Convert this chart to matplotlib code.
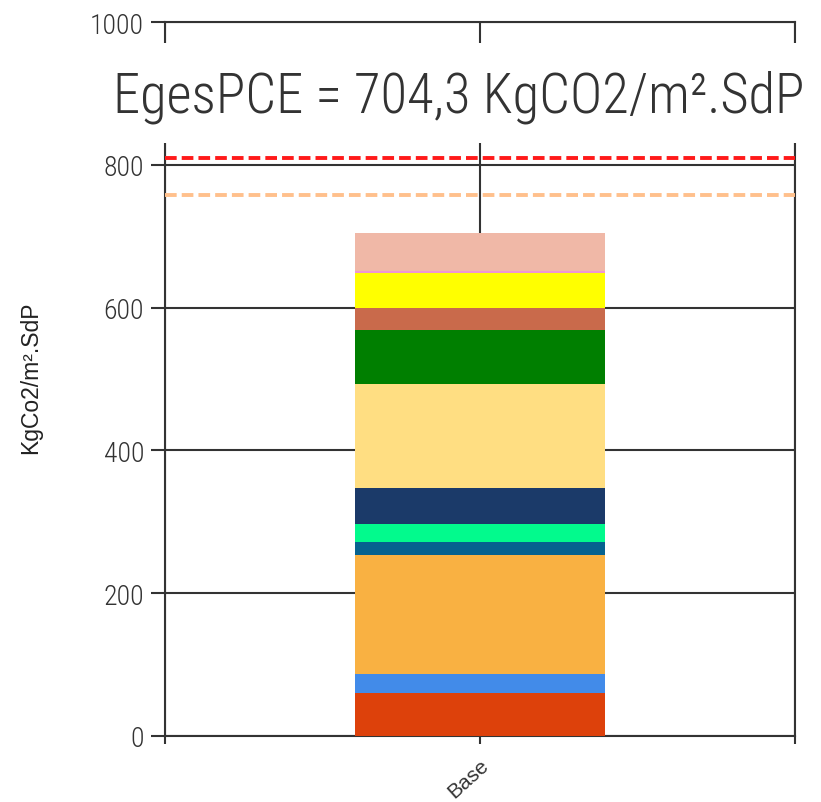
import matplotlib
matplotlib.use("Agg")
import matplotlib.pyplot as plt
from matplotlib import font_manager
from matplotlib.patches import Rectangle

# Stacked components of the carbon footprint (bottom to top)
categories = ["Base"]
segment_values = [60.0, 27.0, 166.5, 18.7, 24.3, 51.5, 145.0, 76.0, 30.0, 50.0, 2.0, 53.3]
segment_colors = ["#dd410b", "#428be9", "#f9b142", "#06628f", "#02fa8d", "#1b3a69",
                  "#ffde82", "#007f00", "#c96a4b", "#ffff00", "#ef96d2", "#f0b8a7"]
threshold_values = [809, 758]
threshold_colors = ["#ff1a1a", "#ffc08c"]
y_ticks = [0, 200, 400, 600, 800, 1000]
total_label = "EgesPCE = 704,3 KgCO2/m².SdP"
y_label = "KgCo2/m².SdP"


def pick_family(candidates):
    installed = {f.name for f in font_manager.fontManager.ttflist}
    for name in candidates:
        if name in installed:
            return name
    return "DejaVu Sans"


narrow = pick_family(["Liberation Sans Narrow", "DejaVu Sans Condensed",
                      "Roboto Condensed", "Open Sans Condensed", "Open Sans"])
arial = pick_family(["Liberation Sans", "DejaVu Sans"])

W, H = 821, 803
fig = plt.figure(figsize=(W / 100, H / 100), dpi=100)
ax = fig.add_axes([165 / W, 1 - 737 / H, 630 / W, 714 / H])

line_col = "#333333"
line_w = 1.5

# stacked bar
bottom = 0.0
for v, c in zip(segment_values, segment_colors):
    ax.bar(0, v, width=0.794, bottom=bottom, color=c, edgecolor="none", zorder=3)
    bottom += v

# thresholds
for tv, tc in zip(threshold_values, threshold_colors):
    ax.axhline(tv, color=tc, lw=2.8, dashes=(3.0, 1.3), zorder=4)

ax.set_xlim(-1, 1)
ax.set_ylim(0, 1000)
ax.set_yticks(y_ticks)
ax.set_xticks([-1, 0, 1])
ax.set_xticklabels(["", categories[0], ""], rotation=42, fontsize=15,
                   family=[arial, "DejaVu Sans"], color="#333333")
for lab in ax.get_xticklabels():
    lab.set_ha("right")
    lab.set_va("top")
    lab.set_rotation_mode("anchor")

ax.tick_params(axis="y", length=10, width=line_w, color=line_col, labelsize=20,
               labelcolor="#333333", pad=5)
ax.tick_params(axis="x", length=6, width=line_w, color=line_col, pad=8)
for lab in ax.get_yticklabels():
    lab.set_family([narrow, "DejaVu Sans"])
    lab.set_fontweight("light")

ax.grid(True, color=line_col, lw=line_w, zorder=1)
ax.set_axisbelow(True)
for side in ("left", "right", "top", "bottom"):
    ax.spines[side].set_color(line_col)
    ax.spines[side].set_linewidth(line_w)
    ax.spines[side].set_zorder(1.5)

ax.set_ylabel(y_label, fontsize=16.5, family=[arial, "DejaVu Sans"],
              color="#222222")
ax.yaxis.set_label_coords(-(165 - 42) / 630, (737 - 378) / 714)

# white band carrying the total
band = Rectangle((-0.01, 830), 1.05, 140, transform=ax.get_yaxis_transform(),
                 facecolor="white", edgecolor="none", zorder=5, clip_on=False)
ax.add_patch(band)
title = ax.text((459 - 165) / 630, 874, total_label, transform=ax.get_yaxis_transform(),
                ha="center", va="baseline", fontsize=30, color="#333333",
                fontweight="light", family=[narrow, "DejaVu Sans"], zorder=6)

# size the total so it spans the band width
renderer = fig.canvas.get_renderer()
width_px = title.get_window_extent(renderer).width
title.set_fontsize(30 * 692 / width_px)

fig.savefig("out.png", dpi=100)
